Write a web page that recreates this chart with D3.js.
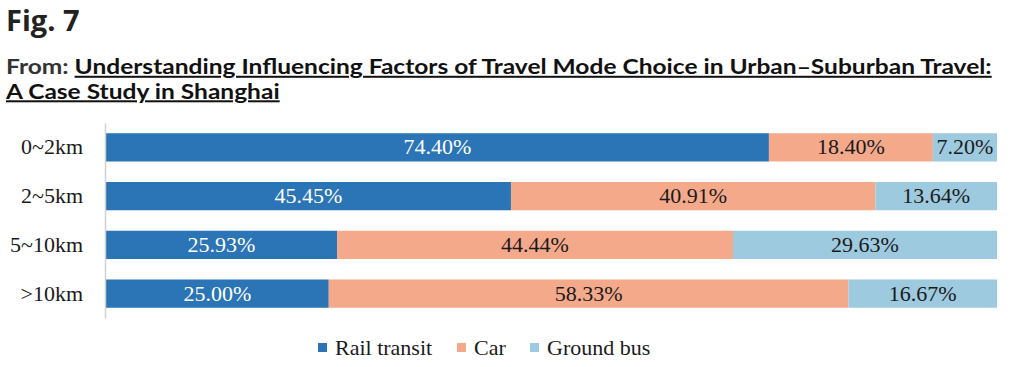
<!DOCTYPE html>
<html>
<head>
<meta charset="utf-8">
<script src="https://cdn.jsdelivr.net/npm/d3@7"></script>
<style>
  html, body { margin: 0; padding: 0; background: #fff; }
  svg { display: block; }
</style>
</head>
<body>
<svg id="chart" width="1024" height="367"></svg>
<script>
const categories = ["0~2km", "2~5km", "5~10km", ">10km"];
const seriesNames = ["Rail transit", "Car", "Ground bus"];
const railTransit = [74.40, 45.45, 25.93, 25.00];
const car = [18.40, 40.91, 44.44, 58.33];
const groundBus = [7.20, 13.64, 29.63, 16.67];
const figTitle = "Fig. 7";
const fromLabel = "From: ";
const paperTitle1 = "Understanding Influencing Factors of Travel Mode Choice in Urban\u2013Suburban Travel:";
const paperTitle2 = "A Case Study in Shanghai";

const colors = ["#2b74b6", "#f5a98b", "#9ecae0"];
const labelColors = ["#ffffff", "#1a1a1a", "#1a1a1a"];

const svg = d3.select("#chart");

// Titles
svg.append("text").attr("x", 6).attr("y", 31)
  .attr("font-family", "'Open Sans', sans-serif").attr("font-weight", 700)
  .attr("font-size", 29).attr("fill", "#222").text(figTitle);

const subFont = "Lato, 'Liberation Sans', sans-serif";
const t1 = svg.append("text").attr("x", 0).attr("y", 0)
  .attr("font-family", subFont).attr("font-weight", 700)
  .attr("font-size", 20);
t1.append("tspan").attr("fill", "#333").text(fromLabel);
t1.append("tspan").attr("fill", "#111").style("text-decoration", "underline").text(paperTitle1);
const t2 = svg.append("text").attr("x", 0).attr("y", 0)
  .attr("font-family", subFont).attr("font-weight", 700)
  .attr("font-size", 20);
t2.append("tspan").attr("fill", "#111").style("text-decoration", "underline").text(paperTitle2);
const w1 = t1.node().getComputedTextLength();
const sx = (992 - 6) / w1;
t1.attr("transform", `translate(6,74) scale(${sx},1)`);
t2.attr("transform", `translate(6,98.5) scale(${sx},1)`);

// Scales
const x = d3.scaleLinear().domain([0, 100]).range([106, 997]);
const y = d3.scaleBand().domain(categories).range([123, 318]).paddingInner(0.42).paddingOuter(0.21);

const stackData = categories.map((c, i) => ({ cat: c, s0: railTransit[i], s1: car[i], s2: groundBus[i] }));
const stack = d3.stack().keys(["s0", "s1", "s2"])(stackData);

const g = svg.append("g");
stack.forEach((layer, li) => {
  g.selectAll(null).data(layer).enter().append("rect")
    .attr("x", d => x(d[0]))
    .attr("y", d => y(d.data.cat))
    .attr("width", d => x(d[1]) - x(d[0]))
    .attr("height", y.bandwidth())
    .attr("fill", colors[li]);
  g.selectAll(null).data(layer).enter().append("text")
    .attr("x", d => (x(d[0]) + x(d[1])) / 2)
    .attr("y", d => y(d.data.cat) + y.bandwidth() / 2 + 7)
    .attr("text-anchor", "middle")
    .attr("font-family", "'Liberation Serif', 'Times New Roman', serif")
    .attr("font-size", 22)
    .attr("fill", labelColors[li])
    .text(d => (d[1] - d[0]).toFixed(2) + "%");
});

// Axis
const axis = svg.append("g").attr("transform", "translate(105,0)")
  .call(d3.axisLeft(y).tickSize(0).tickPadding(22));
axis.select(".domain").attr("stroke", "#d0d0d0").attr("stroke-width", 1.5);
axis.selectAll("text")
  .attr("font-family", "'Liberation Serif', 'Times New Roman', serif")
  .attr("font-size", 22).attr("fill", "#1a1a1a").attr("dy", "0.32em");

// Legend
const legendX = [318, 457, 530];
const leg = svg.append("g");
seriesNames.forEach((n, i) => {
  leg.append("rect").attr("x", legendX[i]).attr("y", 343).attr("width", 9).attr("height", 9).attr("fill", colors[i]);
  leg.append("text").attr("x", legendX[i] + 17).attr("y", 355)
    .attr("font-family", "'Liberation Serif', 'Times New Roman', serif")
    .attr("font-size", 22).attr("fill", "#1a1a1a").text(n);
});
</script>
</body>
</html>
